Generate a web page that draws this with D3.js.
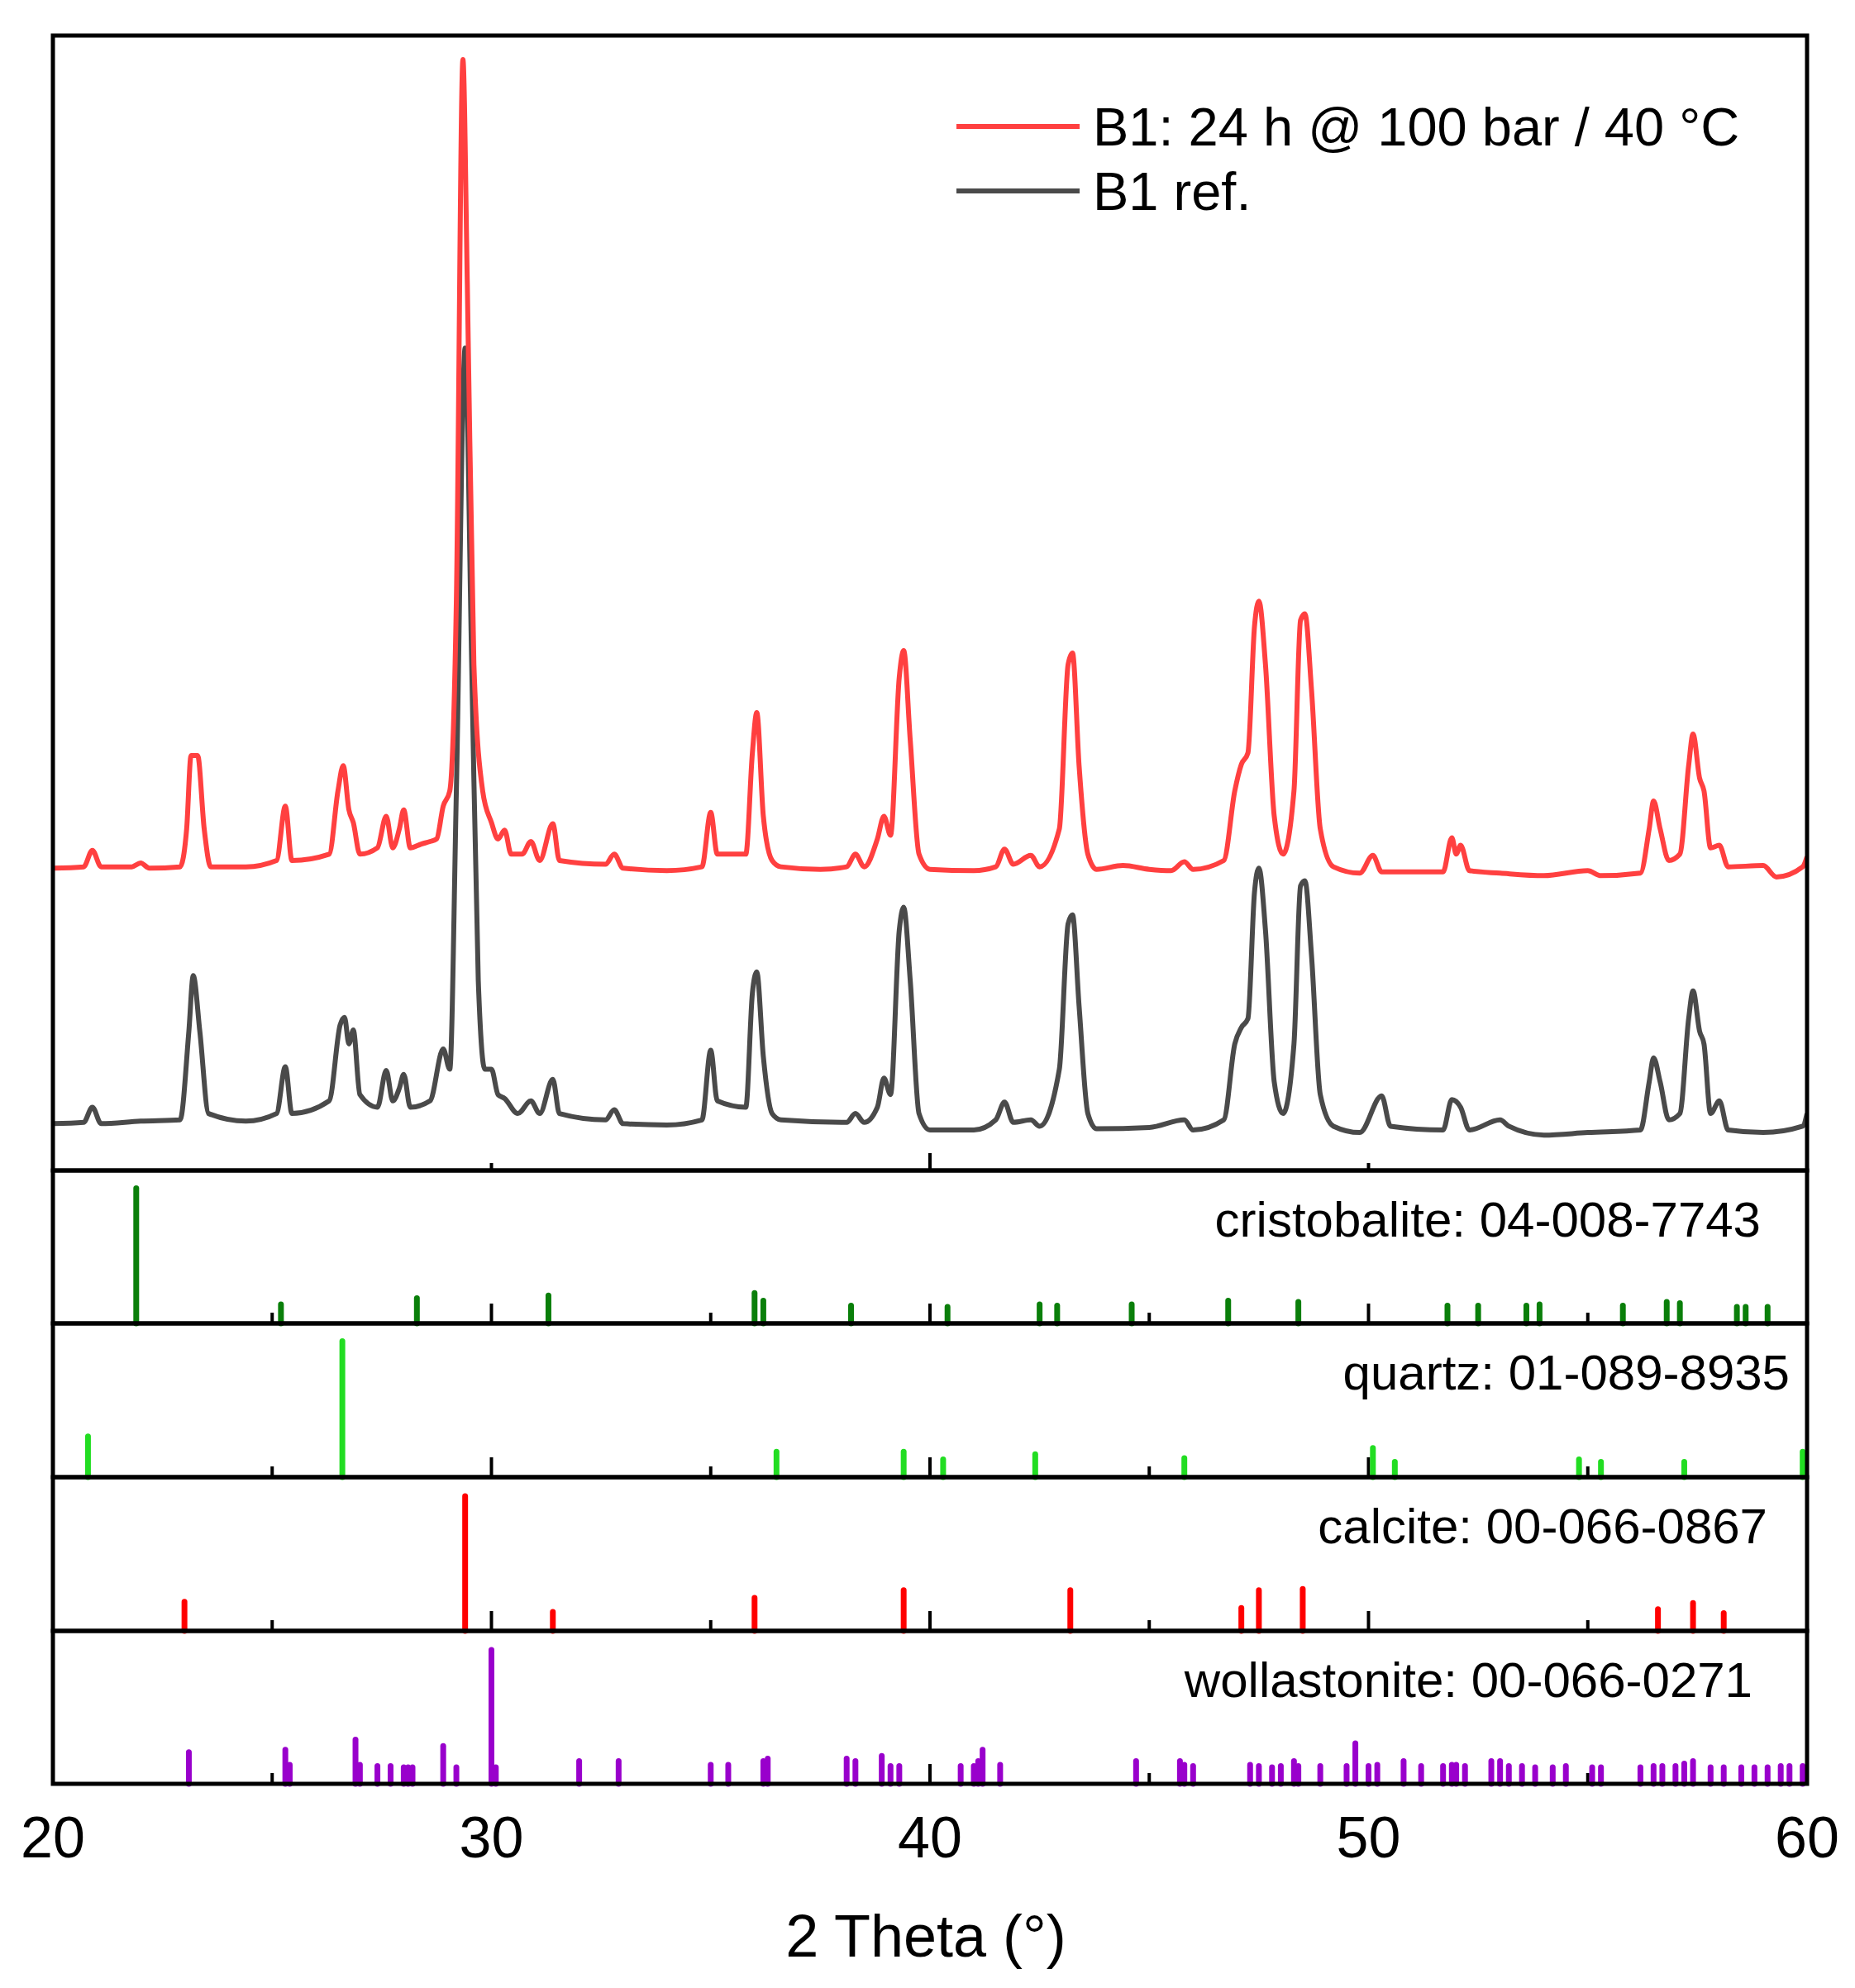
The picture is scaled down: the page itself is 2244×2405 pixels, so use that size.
<!DOCTYPE html>
<html><head><meta charset="utf-8">
<script src="https://cdn.jsdelivr.net/npm/d3@7"></script>
<style>body{margin:0;background:#fff}</style></head>
<body><svg id="c" width="2244" height="2405"></svg>
<script>
const xTicks=[20,30,40,50,60];
const seriesNames=["B1: 24 h @ 100 bar / 40 °C","B1 ref."];
const seriesColors=["#ff4040","#4a4a4a"];
const redSeries=[[20,239],[20.7,240],[20.9,253],[21.1,240],[21.8,240],[22.0,243],[22.2,239],[22.9,240],[23.05,270],[23.15,328],[23.3,328],[23.45,270],[23.6,240],[24.4,240],[25.1,245],[25.3,288],[25.45,245],[26.3,250],[26.5,300],[26.62,320],[26.75,285],[26.85,275],[27.0,250],[27.4,255],[27.6,280],[27.75,255],[27.9,270],[28.0,285],[28.15,255],[28.4,258],[28.6,260],[28.75,262],[28.9,288],[29.05,300],[29.2,450],[29.35,878],[29.45,700],[29.6,400],[29.8,300],[30.0,275],[30.15,262],[30.3,269],[30.45,250],[30.7,250],[30.9,260],[31.1,245],[31.4,274],[31.55,245],[32.6,242],[32.8,250],[33.0,239],[34.0,237],[34.8,240],[35.0,283],[35.15,250],[35.8,250],[35.95,330],[36.05,362],[36.2,280],[36.4,245],[36.6,240],[37.5,238],[38.1,240],[38.3,250],[38.5,240],[38.8,262],[38.95,280],[39.1,265],[39.3,390],[39.4,411],[39.55,340],[39.75,250],[40.0,238],[41.0,237],[41.5,240],[41.7,254],[41.9,242],[42.3,249],[42.5,240],[42.95,270],[43.15,400],[43.25,409],[43.4,320],[43.6,250],[43.8,238],[44.4,241],[45.0,238],[45.5,237],[45.8,244],[46.0,238],[46.7,245],[46.95,300],[47.1,321],[47.25,330],[47.4,430],[47.5,450],[47.65,400],[47.85,280],[48.05,250],[48.3,300],[48.45,435],[48.55,440],[48.7,380],[48.9,270],[49.2,240],[49.8,235],[50.1,249],[50.3,236],[51.7,236],[51.9,263],[52.0,250],[52.1,257],[52.3,237],[53.0,235],[54.0,233],[55.0,237],[55.3,233],[56.2,235],[56.4,270],[56.5,292],[56.65,270],[56.85,245],[57.1,250],[57.3,320],[57.4,345],[57.55,310],[57.65,300],[57.8,255],[58.0,257],[58.2,240],[59.0,241],[59.3,232],[59.9,240],[60,248]];
const blackSeries=[[20,37],[20.7,38],[20.9,50],[21.1,37],[22.0,39],[22.9,40],[23.1,110],[23.2,154],[23.35,110],[23.55,45],[24.4,39],[25.1,45],[25.3,82],[25.45,45],[26.3,55],[26.55,115],[26.65,121],[26.75,100],[26.85,111],[27.0,60],[27.4,50],[27.6,79],[27.75,55],[27.9,65],[28.0,76],[28.15,50],[28.6,55],[28.9,96],[29.05,80],[29.2,300],[29.4,650],[29.55,400],[29.7,150],[29.85,80],[30.0,80],[30.15,60],[30.3,57],[30.6,45],[30.9,55],[31.1,45],[31.4,72],[31.55,45],[32.6,40],[32.8,48],[33.0,37],[34.0,36],[34.8,40],[35.0,95],[35.15,55],[35.8,50],[35.95,140],[36.05,157],[36.2,90],[36.4,45],[36.6,40],[38.1,38],[38.3,45],[38.5,38],[38.8,50],[38.95,73],[39.1,60],[39.3,190],[39.4,208],[39.55,150],[39.75,45],[40.0,32],[41.0,32],[41.5,40],[41.7,54],[41.9,38],[42.3,40],[42.5,35],[42.95,80],[43.15,195],[43.25,202],[43.4,130],[43.6,45],[43.8,33],[45.0,34],[45.8,40],[46.0,32],[46.7,40],[46.95,100],[47.1,113],[47.25,120],[47.4,220],[47.5,239],[47.65,190],[47.85,70],[48.05,45],[48.3,100],[48.45,225],[48.55,229],[48.7,170],[48.9,60],[49.2,35],[49.8,30],[50.3,59],[50.5,35],[51.7,32],[51.9,56],[52.1,50],[52.3,32],[53.0,40],[53.2,35],[54.0,28],[55.0,30],[56.2,32],[56.4,70],[56.5,89],[56.65,70],[56.85,40],[57.1,45],[57.3,120],[57.4,142],[57.55,110],[57.65,100],[57.8,45],[58.0,55],[58.2,32],[59.0,30],[59.9,35],[60,45]];
const refNames=["cristobalite: 04-008-7743","quartz: 01-089-8935","calcite: 00-066-0867","wollastonite: 00-066-0271"];
const refColors=["#0a7f0a","#22dd22","#ff0000","#9900cc"];
const cristobalite=[[21.9,107],[25.2,15],[28.3,20],[31.3,22],[36.0,24],[36.2,18],[38.2,14],[40.4,13],[42.5,15],[42.9,14],[44.6,15],[46.8,18],[48.4,17],[51.8,14],[52.5,14],[53.6,14],[53.9,15],[55.8,14],[56.8,17],[57.1,16],[58.4,13],[58.6,13],[59.1,13]];
const quartz=[[20.8,32],[26.6,107],[36.5,20],[39.4,20],[40.3,14],[42.4,18],[45.8,15],[50.1,23],[50.6,12],[54.8,14],[55.3,12],[57.2,12],[59.9,20]];
const calcite=[[23.0,23],[29.4,106],[31.4,15],[36.0,26],[39.4,32],[43.2,32],[47.1,18],[47.5,32],[48.5,33],[56.6,17],[57.4,22],[58.1,14]];
const wollastonite=[[23.1,25],[25.3,27],[25.4,15],[26.9,35],[27.0,15],[27.4,14],[27.7,14],[28.0,13],[28.1,13],[28.2,13],[28.9,30],[29.2,13],[30.0,106],[30.1,13],[32.0,18],[32.9,18],[35.0,15],[35.4,15],[36.2,18],[36.3,20],[38.1,20],[38.3,18],[38.9,22],[39.1,14],[39.3,14],[40.7,14],[41.0,14],[41.1,18],[41.2,27],[41.6,15],[44.7,18],[45.7,18],[45.8,15],[46.0,14],[47.3,15],[47.5,14],[47.8,13],[48.0,14],[48.3,18],[48.4,14],[48.9,14],[49.5,14],[49.7,32],[50.0,14],[50.2,15],[50.8,18],[51.2,14],[51.7,14],[51.9,15],[52.0,15],[52.2,14],[52.8,18],[53.0,18],[53.2,14],[53.5,14],[53.8,13],[54.2,13],[54.5,14],[55.1,13],[55.3,13],[56.2,13],[56.5,14],[56.7,14],[57.0,14],[57.2,16],[57.4,18],[57.8,13],[58.1,13],[58.5,13],[58.8,13],[59.1,13],[59.4,14],[59.6,14],[59.9,14]];
const refData=[cristobalite,quartz,calcite,wollastonite];

const svg=d3.select("#c");
const L=64,R=2186,T=43,MB=1416;
const subB=[1601,1787,1973,2158];
const font="Arial, 'Liberation Sans', sans-serif";
const x=d3.scaleLinear().domain([20,60]).range([L,R]);
const y=d3.scaleLinear().domain([0,897]).range([MB,T]);
const line=d3.line().x(d=>x(d[0])).y(d=>y(d[1])).curve(d3.curveMonotoneX);
svg.append("clipPath").attr("id","cl").append("rect").attr("x",L).attr("y",T).attr("width",R-L).attr("height",MB-T);
const g=svg.append("g").attr("clip-path","url(#cl)");
[blackSeries,redSeries].forEach((s,i)=>{
  g.append("path").datum(s).attr("d",line).attr("fill","none")
   .attr("stroke",i===0?seriesColors[1]:seriesColors[0]).attr("stroke-width",6).attr("stroke-linejoin","round");
});
[[30,9],[40,21],[50,9]].forEach(([v,l])=>svg.append("line").attr("x1",x(v)).attr("x2",x(v)).attr("y1",MB).attr("y2",MB-l).attr("stroke","#000").attr("stroke-width",4));
svg.append("rect").attr("x",L).attr("y",T).attr("width",R-L).attr("height",MB-T).attr("fill","none").attr("stroke","#000").attr("stroke-width",5);
seriesNames.forEach((n,i)=>{
  const yy=153+i*78;
  svg.append("line").attr("x1",1157).attr("x2",1306).attr("y1",yy).attr("y2",yy).attr("stroke",seriesColors[i]).attr("stroke-width",6);
  svg.append("text").attr("x",1322).attr("y",yy+23).text(n).attr("font-family",font).attr("font-size",65).attr("fill","#000");
});
const labelX=[2130,2165,2138,2120];
refData.forEach((d,i)=>{
  const top=i===0?MB:subB[i-1], bot=subB[i];
  const ys=d3.scaleLinear().domain([0,121]).range([bot,top]);
  [25,30,35,40,45,50,55].forEach(v=>{
    const l=v%10===0?24:13;
    svg.append("line").attr("x1",x(v)).attr("x2",x(v)).attr("y1",bot).attr("y2",bot-l).attr("stroke","#000").attr("stroke-width",4);
  });
  svg.selectAll(null).data(d).enter().append("line")
   .attr("x1",p=>x(p[0])).attr("x2",p=>x(p[0])).attr("y1",bot).attr("y2",p=>ys(p[1]))
   .attr("stroke",refColors[i]).attr("stroke-width",7).attr("stroke-linecap","round");
  svg.append("rect").attr("x",L).attr("y",top).attr("width",R-L).attr("height",bot-top).attr("fill","none").attr("stroke","#000").attr("stroke-width",5);
  svg.append("text").attr("x",labelX[i]).attr("y",top+80).attr("text-anchor","end").text(refNames[i]).attr("font-family",font).attr("font-size",60).attr("fill","#000");
});
xTicks.forEach(v=>svg.append("text").attr("x",x(v)).attr("y",2247).attr("text-anchor","middle").text(v).attr("font-family",font).attr("font-size",70));
svg.append("text").attr("x",1120).attr("y",2367).attr("text-anchor","middle").text("2 Theta (°)").attr("font-family",font).attr("font-size",72);
</script></body></html>
